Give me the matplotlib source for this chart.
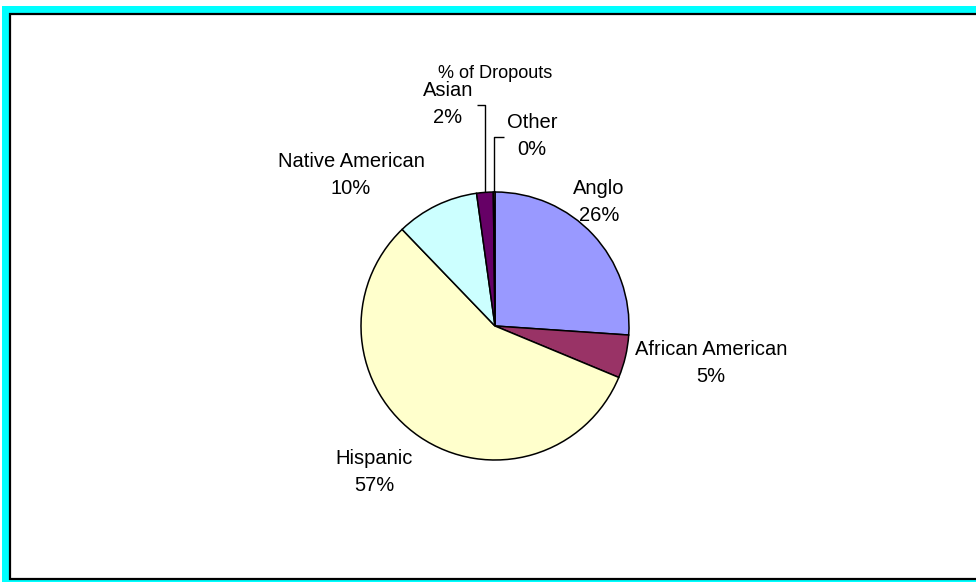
import numpy as np
import matplotlib
matplotlib.use("Agg")
import matplotlib.pyplot as plt
from matplotlib.patches import Rectangle

plt.rcParams['font.family'] = ['Liberation Sans', 'DejaVu Sans']

# Share of dropouts by group (percent)
groups = ["Anglo", "African American", "Hispanic", "Native American", "Asian", "Other"]
shares = [26.1, 5.2, 56.6, 10.0, 2.0, 0.2]
colors = ["#9999FF", "#993366", "#FFFFCC", "#CCFFFF", "#660066", "#FF8080"]
title = "% of Dropouts"

W, H = 976, 582
fig = plt.figure(figsize=(W / 100, H / 100), dpi=100)
ax = fig.add_axes([0, 0, 1, 1])

def py(y):
    """Convert a top-down pixel row to the axes' bottom-up coordinate."""
    return H - y

# Outer cyan frame and inner bordered chart area
ax.add_patch(Rectangle((2, -20), 1100, py(6) + 20, facecolor="#00FFFF",
                       edgecolor="none", zorder=0))
ax.add_patch(Rectangle((10, py(579)), 1100, py(14) - py(579), facecolor="white",
                       edgecolor="black", linewidth=1.6, zorder=1))

cx, cy, r = 495, py(326), 134
wedges, _ = ax.pie(shares, colors=colors, startangle=90, counterclock=False,
                   center=(cx, cy), radius=r,
                   wedgeprops=dict(edgecolor="black", linewidth=1.1, zorder=2))
for w in wedges:
    w.set_zorder(2)

# Label anchor positions (pixel rows from the top)
label_pos = [(599, 202), (711, 363), (374, 472), (351, 175), (448, 104), (532, 136)]
# Leader elbows: (y of horizontal stub, x where stub starts) for small slices
leaders = {4: (105, 477), 5: (137, 504)}

total = sum(shares)
fs = 14.5
cum = 0.0
for i, (name, val) in enumerate(zip(groups, shares)):
    mid = cum + val / 2
    cum += val
    pct = 100 * val / total
    lx, ly = label_pos[i]
    ax.text(lx, py(ly), f"{name}\n{pct:.0f}%", ha="center", va="center",
            fontsize=fs, color="black", linespacing=1.52, zorder=4)
    if i in leaders:
        theta = np.deg2rad(90 - 360 * mid / total)
        ex, ey = cx + r * np.cos(theta), cy + r * np.sin(theta)
        sy, sx = leaders[i]
        ax.plot([sx, ex, ex], [py(sy), py(sy), ey], color="black",
                linewidth=1.0, zorder=3, solid_capstyle="butt")

ax.text(495, py(73), title, ha="center", va="center", fontsize=fs * 0.9,
        color="black", zorder=4)

ax.set_xlim(0, W)
ax.set_ylim(0, H)
ax.set_aspect("auto")
ax.axis("off")

fig.savefig("out.png", dpi=100, facecolor="white")
